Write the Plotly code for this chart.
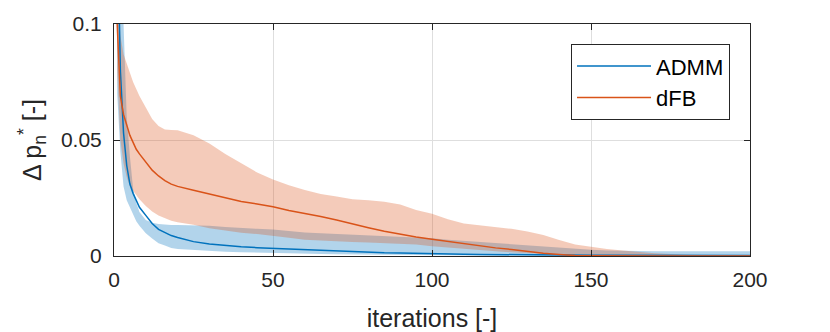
import plotly.graph_objects as go

iters = [1, 2, 3, 4, 5, 6, 7, 8, 10, 12, 14, 16, 18, 20, 25, 30, 35, 40, 45, 50,
         55, 60, 65, 70, 75, 80, 85, 90, 95, 100, 105, 110, 115, 120, 125, 130,
         135, 140, 145, 150, 155, 160, 165, 170, 180, 190, 200]

# ADMM: mean and band
admm_mean = [0.15, 0.08, 0.053, 0.039, 0.031, 0.027, 0.024, 0.021, 0.0175, 0.014,
             0.0115, 0.010, 0.0088, 0.008, 0.0062, 0.0052, 0.0045, 0.004, 0.0036, 0.0033,
             0.0029, 0.0026, 0.0023, 0.002, 0.0018, 0.0016, 0.0014, 0.0013, 0.0011, 0.001,
             0.0009, 0.0008, 0.0007, 0.0006, 0.0005, 0.0005, 0.0004, 0.0004, 0.0003, 0.0003,
             0.0003, 0.0003, 0.0002, 0.0002, 0.0002, 0.0002, 0.0002]
admm_upper = [0.2, 0.13, 0.1, 0.06, 0.043, 0.029, 0.023, 0.019, 0.0155, 0.0143,
              0.0138, 0.0135, 0.0134, 0.0134, 0.0133, 0.013, 0.0125, 0.012, 0.0117, 0.0114,
              0.0107, 0.0101, 0.0098, 0.0095, 0.0092, 0.009, 0.0087, 0.0083, 0.008, 0.0076,
              0.007, 0.0065, 0.006, 0.0055, 0.005, 0.0045, 0.004, 0.0035, 0.003, 0.0027,
              0.0024, 0.0022, 0.0021, 0.002, 0.002, 0.002, 0.002]
admm_lower = [0.07, 0.045, 0.03, 0.024, 0.021, 0.018, 0.015, 0.013, 0.0098, 0.0075,
              0.0055, 0.0045, 0.0035, 0.003, 0.0025, 0.002, 0.0018, 0.0016, 0.0014, 0.0012,
              0.0011, 0.001, 0.0009, 0.0008, 0.0007, 0.0006, 0.0005, 0.0004, 0.0004, 0.0003,
              0.0003, 0.0002, 0.0002, 0.0001, 0.0001, 0.0001, 0.0001, 0.0001, 0.0, 0.0,
              0.0, 0.0, 0.0, 0.0, 0.0, 0.0, 0.0]

# dFB: mean and band
dfb_mean = [0.1, 0.069, 0.061, 0.056, 0.052, 0.049, 0.046, 0.044, 0.0405, 0.037,
            0.0345, 0.0325, 0.031, 0.030, 0.0283, 0.0268, 0.0252, 0.0235, 0.0224, 0.0212,
            0.0196, 0.0184, 0.017, 0.0155, 0.0137, 0.0122, 0.0107, 0.0094, 0.0082, 0.0072,
            0.0062, 0.0053, 0.0044, 0.0035, 0.0028, 0.0019, 0.0012, 0.0007, 0.0002, 0.0001,
            0.0, 0.0, 0.0, 0.0, 0.0, 0.0, 0.0]
dfb_upper = [0.12, 0.095, 0.087, 0.083, 0.079, 0.075, 0.072, 0.069, 0.064, 0.059,
             0.056, 0.0545, 0.0543, 0.0542, 0.052, 0.0485, 0.044, 0.040, 0.036, 0.033,
             0.0305, 0.0284, 0.0267, 0.0256, 0.0245, 0.024, 0.0234, 0.0222, 0.0198, 0.0182,
             0.0158, 0.014, 0.0133, 0.0127, 0.0117, 0.0106, 0.009, 0.0069, 0.005, 0.004,
             0.003, 0.0024, 0.0018, 0.0012, 0.0005, 0.0002, 0.0001]
dfb_lower = [0.08, 0.05, 0.04, 0.034, 0.03, 0.028, 0.026, 0.0245, 0.0215, 0.0192,
             0.0175, 0.0162, 0.0152, 0.0146, 0.0135, 0.012, 0.011, 0.010, 0.0095, 0.0088,
             0.0079, 0.007, 0.0066, 0.0063, 0.006, 0.0058, 0.0055, 0.0053, 0.005, 0.0042,
             0.0036, 0.003, 0.0025, 0.002, 0.0016, 0.0012, 0.0008, 0.0005, 0.0002, 0.0001,
             0.0, 0.0, 0.0, 0.0, 0.0, 0.0, 0.0]

BLUE = "#0072BD"
ORANGE = "#D95319"
AX = "#262626"

fig = go.Figure()

# bands (lower edge, then upper edge filled down to it)
for lo, up, fillc in [(admm_lower, admm_upper, "rgba(0,114,189,0.3)"),
                      (dfb_lower, dfb_upper, "rgba(217,83,25,0.3)")]:
    fig.add_trace(go.Scatter(x=iters, y=lo, mode="lines", line=dict(width=0),
                             showlegend=False, hoverinfo="skip"))
    fig.add_trace(go.Scatter(x=iters, y=up, mode="lines", line=dict(width=0),
                             fill="tonexty", fillcolor=fillc,
                             showlegend=False, hoverinfo="skip"))

fig.add_trace(go.Scatter(x=iters, y=admm_mean, mode="lines", name="ADMM",
                         line=dict(color=BLUE, width=1.5)))
fig.add_trace(go.Scatter(x=iters, y=dfb_mean, mode="lines", name="dFB",
                         line=dict(color=ORANGE, width=1.5)))

axis_common = dict(
    showline=True, linecolor=AX, linewidth=1, mirror="ticks",
    ticks="inside", ticklen=6, tickcolor=AX, automargin=False,
    showgrid=True, gridcolor="#dedede", gridwidth=1,
    zeroline=False, tickfont=dict(size=21, color=AX),
)

fig.update_xaxes(range=[0, 200], tickvals=[0, 50, 100, 150, 200],
                 ticklabelstandoff=5,
                 title=dict(text="iterations [-]", font=dict(size=25, color=AX), standoff=19),
                 **axis_common)
fig.update_yaxes(range=[0, 0.1], tickvals=[0, 0.05, 0.1], ticktext=["0", "0.05", "0.1"],
                 ticklabelstandoff=7,
                 title=dict(text="Δ p<sub>n</sub><sup>*</sup> [-]", font=dict(size=25, color=AX),
                            standoff=12),
                 **axis_common)

# the page puts the plot 8px in from the top left, margins allow for that
fig.update_layout(
    width=822, height=324,
    margin=dict(l=106, r=80, t=16, b=76),
    paper_bgcolor="white", plot_bgcolor="white",
    font=dict(family="Liberation Sans, Arial, sans-serif", color=AX),
    legend=dict(x=0.7186, y=0.913, xanchor="left", yanchor="top",
                bgcolor="white", bordercolor=AX, borderwidth=1, traceorder="normal",
                font=dict(size=22, color="black"), itemwidth=74),
)

fig.write_html("out.html")
